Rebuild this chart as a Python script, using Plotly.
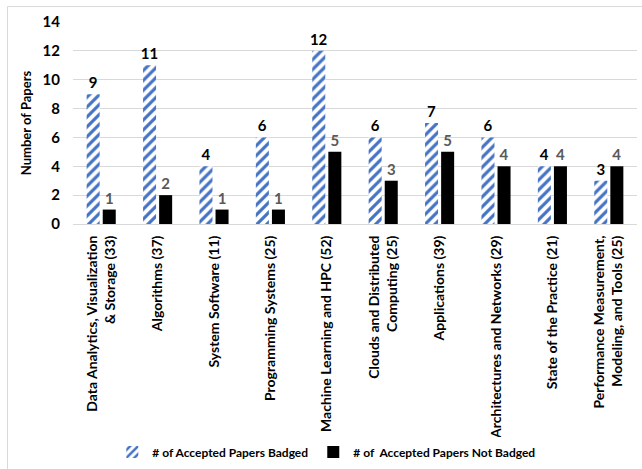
import plotly.graph_objects as go

categories = [
    "Data Analytics, Visualization<br>& Storage (33)",
    "Algorithms (37)",
    "System Software (11)",
    "Programming Systems (25)",
    "Machine Learning and HPC (52)",
    "Clouds and Distributed<br>Computing (25)",
    "Applications (39)",
    "Architectures and Networks (29)",
    "State of the Practice (21)",
    "Performance Measurement,<br>Modeling, and Tools (25)",
]
badged = [9, 11, 4, 6, 12, 6, 7, 6, 4, 3]
not_badged = [1, 2, 1, 1, 5, 3, 5, 4, 4, 4]
y_ticks = [0, 2, 4, 6, 8, 10, 12, 14]

FONT = "Lato"

fig = go.Figure()
fig.add_trace(go.Bar(
    x=categories, y=badged, name="# of Accepted Papers Badged",
    marker=dict(color="white", line=dict(width=0),
                pattern=dict(shape="/", fgcolor="#4472C4", bgcolor="white", fgopacity=1,
                             fillmode="replace", size=7, solidity=0.45)),
    text=badged, textposition="outside", cliponaxis=False, constraintext="none",
    textfont=dict(family=FONT, size=15, color="#000000", weight="bold"),
))
fig.add_trace(go.Bar(
    x=categories, y=not_badged, name="# of \u00a0Accepted Papers Not Badged",
    marker=dict(color="#000000", line=dict(width=0)),
    text=not_badged, textposition="outside", cliponaxis=False, constraintext="none",
    textfont=dict(family=FONT, size=15, color="#595959", weight="bold"),
))

fig.update_layout(
    width=642, height=469,
    margin=dict(l=73, r=5, t=22, b=244),
    paper_bgcolor="white", plot_bgcolor="white",
    barmode="group", bargap=0.43, bargroupgap=0.19,
    font=dict(family=FONT, color="#000000"),
    showlegend=True,
    legend=dict(orientation="h", x=0.45, xanchor="center", y=-1.118, yanchor="middle",
                font=dict(family=FONT, size=12, color="#000000", weight="bold"),
                itemwidth=30, traceorder="normal"),
    xaxis=dict(tickangle=-90, tickfont=dict(family=FONT, size=14, color="#000000", weight="bold"),
               showline=True, linecolor="#D9D9D9", linewidth=1, ticks="",
               ticklabelstandoff=5, showgrid=False),
    yaxis=dict(range=[0, 14], tickvals=y_ticks, showgrid=True, gridcolor="#D9D9D9",
               gridwidth=1, zeroline=False, showline=False, ticks="",
               tickfont=dict(family=FONT, size=15, color="#000000", weight="bold"),
               ticklabelstandoff=12,
               title=dict(text="Number of Papers", standoff=8,
                          font=dict(family=FONT, size=13, color="#000000", weight="bold"))),
    shapes=[dict(type="rect", xref="paper", yref="paper",
                 x0=(7.5 - 73) / 564, x1=(660 - 73) / 564,
                 y0=(225 - 500) / 203, y1=(225 - 6.5) / 203,
                 line=dict(color="#D9D9D9", width=1), fillcolor="rgba(0,0,0,0)", layer="below")],
)

fig.write_html("out.html")
